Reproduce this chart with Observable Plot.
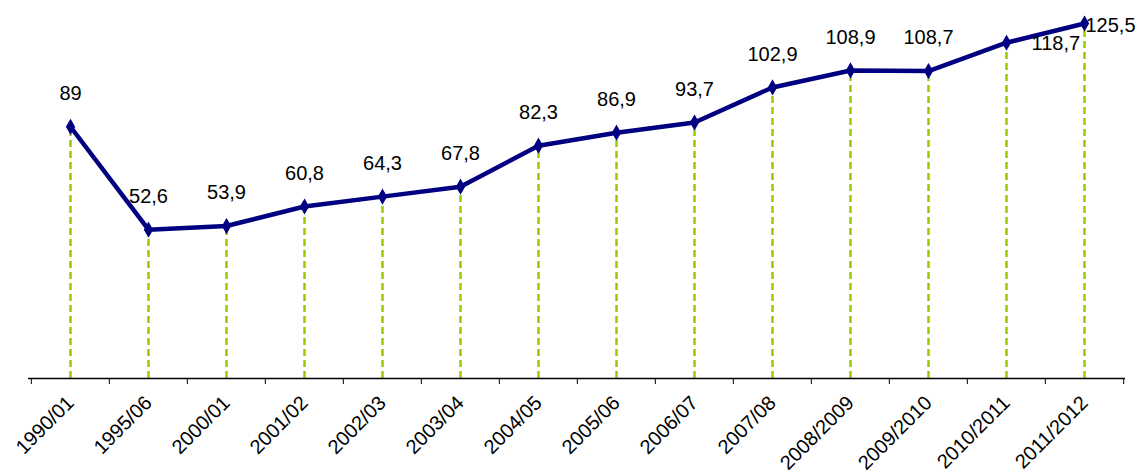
<!DOCTYPE html>
<html><head><meta charset="utf-8">
<script src="https://cdn.jsdelivr.net/npm/d3@7"></script>
<script src="https://cdn.jsdelivr.net/npm/@observablehq/plot@0.6"></script>
<style>body{margin:0;background:#fff;} svg{font-family:"Liberation Sans",Arial,sans-serif;}</style>
</head><body><div id="chart"></div>
<script>
const categories = ["1990/01","1995/06","2000/01","2001/02","2002/03","2003/04","2004/05","2005/06","2006/07","2007/08","2008/2009","2009/2010","2010/2011","2011/2012"];
// plotted positions
const values = [89,52.6,53.9,60.8,64.3,67.8,82.3,86.9,90.5,102.9,108.9,108.7,118.7,125.5];
// data labels as printed in the picture
const labels = ["89","52,6","53,9","60,8","64,3","67,8","82,3","86,9","93,7","102,9","108,9","108,7","118,7","125,5"];

const data = categories.map((c,i)=>({c, v: values[i], l: labels[i], i}));
const W = 1138, ML = 28, MR = 13;
const bw = (W - ML - MR) / categories.length;
const navy = "#000080", green = "#99CC00";

const chart = Plot.plot({
  width: W, height: 475,
  marginLeft: ML, marginRight: MR, marginTop: 23, marginBottom: 97,
  style: {fontFamily: "Liberation Sans, Arial, sans-serif", background: "#fff"},
  x: {type: "band", domain: categories, padding: 0, axis: null, label: null},
  y: {domain: [0, 125.5], axis: null},
  marks: [
    Plot.ruleX(data, {x: "c", y1: 0, y2: "v", stroke: green, strokeWidth: 2.5, strokeDasharray: "7,4"}),
    Plot.ruleY([0], {stroke: "#000", strokeWidth: 1.5}),
    Plot.axisX({tickSize: 6, tickFormat: () => "", dx: -bw/2, stroke: "#000", label: null}),
    Plot.axisX([categories[categories.length-1]], {tickSize: 6, tickFormat: () => "", dx: bw/2, stroke: "#000", label: null}),
    Plot.axisX({tickSize: 0, tickRotate: -45, tickPadding: 21, fontSize: 20, fill: "#000", dx: 0, label: null}),
    Plot.line(data, {x: "c", y: "v", stroke: navy, strokeWidth: 4.5, strokeLinejoin: "round"}),
    Plot.dot(data, {x: "c", y: "v", symbol: "diamond", r: 4, fill: navy, stroke: navy}),
    Plot.text(data.filter(d => d.i < 12), {x: "c", y: "v", text: "l", dy: -33, fontSize: 20, fill: "#000"}),
    Plot.text(data.filter(d => d.i === 12), {x: "c", y: "v", text: "l", dx: 25, dy: 1, textAnchor: "start", fontSize: 20, fill: "#000"}),
    Plot.text(data.filter(d => d.i === 13), {x: "c", y: "v", text: "l", dx: 1, dy: 2, textAnchor: "start", fontSize: 20, fill: "#000"})
  ]
});
document.getElementById("chart").appendChild(chart);
</script>
</body></html>
